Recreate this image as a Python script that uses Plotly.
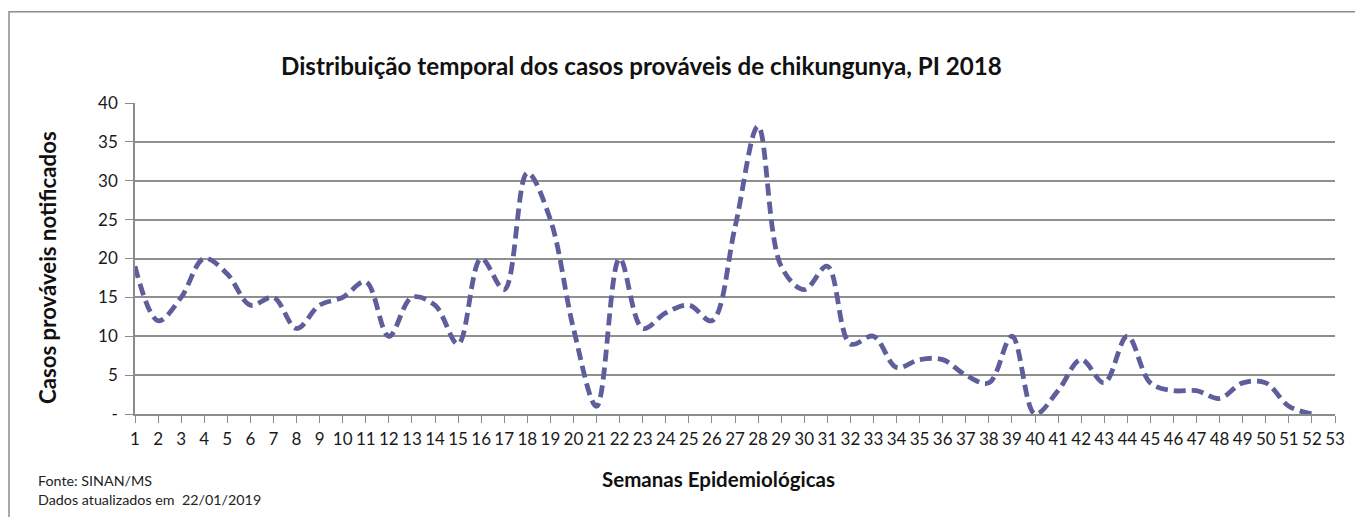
import plotly.graph_objects as go

weeks = list(range(1, 53))
cases = [19, 12, 15, 20, 18, 14, 15, 11, 14, 15,
         17, 10, 15, 14, 9, 20, 16, 31, 25, 11,
         1, 20, 11, 13, 14, 12, 24, 37, 19, 16,
         19, 9, 10, 6, 7, 7, 5, 4, 10, 0,
         3, 7, 4, 10, 4, 3, 3, 2, 4, 4,
         1, 0]
x_ticks = list(range(1, 54))
x_labels = [str(i) for i in x_ticks]
y_ticks = [0, 5, 10, 15, 20, 25, 30, 35, 40]
y_labels = ["-", "5", "10", "15", "20", "25", "30", "35", "40"]

title = "Distribuição temporal dos casos prováveis de chikungunya, PI 2018"
y_title = "Casos prováveis notificados"
x_title = "Semanas Epidemiológicas"
note = "Fonte: SINAN/MS<br>Dados atualizados em  22/01/2019"

# the page body adds an 8px offset; all positions below are in figure coords
OFF = 8
W, H = 1363 - OFF, 517 - OFF
L, T = 135 - OFF, 103 - OFF
PR, PB = 1335 - OFF, 414 - OFF
R, B = W - PR, H - PB
pw, ph = PR - L, PB - T

def px(x):
    return (x - OFF - L) / pw

def py(y):
    return (PB - (y - OFF)) / ph

FONT = "Lato"
fig = go.Figure()
fig.add_trace(go.Scatter(
    x=weeks, y=cases, mode="lines",
    line=dict(color="#5E5E9C", width=4.8, dash="12px,6px", shape="spline", smoothing=1.0),
    hoverinfo="x+y", showlegend=False,
))

fig.update_layout(
    width=W, height=H,
    margin=dict(l=L, r=R, t=T, b=B, autoexpand=False),
    paper_bgcolor="white", plot_bgcolor="white",
    font=dict(family=FONT, color="#1a1a1a", size=17),
    xaxis=dict(
        range=[1, 53], tickmode="array", tickvals=x_ticks, ticktext=x_labels,
        tickangle=0, showgrid=False, zeroline=False, automargin=False,
        showline=True, linecolor="#8c8c8c", linewidth=1.5,
        ticks="outside", ticklen=7, tickcolor="#8c8c8c", tickwidth=1.2,
        ticklabelstandoff=2,
        tickfont=dict(size=17, family=FONT, color="#1a1a1a"),
    ),
    yaxis=dict(
        range=[0, 40], tickmode="array", tickvals=y_ticks, ticktext=y_labels,
        showgrid=True, gridcolor="#8f8f8f", gridwidth=1.5, zeroline=False, automargin=False,
        showline=True, linecolor="#8c8c8c", linewidth=1.5,
        ticks="outside", ticklen=8, tickcolor="#8c8c8c", tickwidth=1.2,
        ticklabelstandoff=4,
        tickfont=dict(size=17, family=FONT, color="#1a1a1a"),
    ),
)

# titles as positioned annotations
fig.add_annotation(text="<b>" + title + "</b>", xref="paper", yref="paper",
                   x=px(641), y=py(65), xanchor="center", yanchor="middle", showarrow=False,
                   font=dict(size=24.2, family=FONT, color="#111"))
fig.add_annotation(text="<b>" + y_title + "</b>", xref="paper", yref="paper",
                   x=px(47), y=py(268), xanchor="center", yanchor="middle", showarrow=False,
                   textangle=-90, font=dict(size=22.2, family=FONT, color="#111"))
fig.add_annotation(text="<b>" + x_title + "</b>", xref="paper", yref="paper",
                   x=px(718), y=py(479), xanchor="center", yanchor="middle", showarrow=False,
                   font=dict(size=20.5, family=FONT, color="#111"))
fig.add_annotation(text=note, xref="paper", yref="paper",
                   x=px(36), y=py(470), xanchor="left", yanchor="top",
                   align="left", showarrow=False,
                   font=dict(size=14.3, family=FONT, color="#222"))

# outer chart border (top and left visible)
fig.add_shape(type="rect", xref="paper", yref="paper",
              x0=px(9), x1=px(1400), y0=py(560), y1=py(11.7),
              line=dict(color="#8c8c8c", width=1.5), fillcolor="rgba(0,0,0,0)", layer="below")

fig.write_html("out.html")
